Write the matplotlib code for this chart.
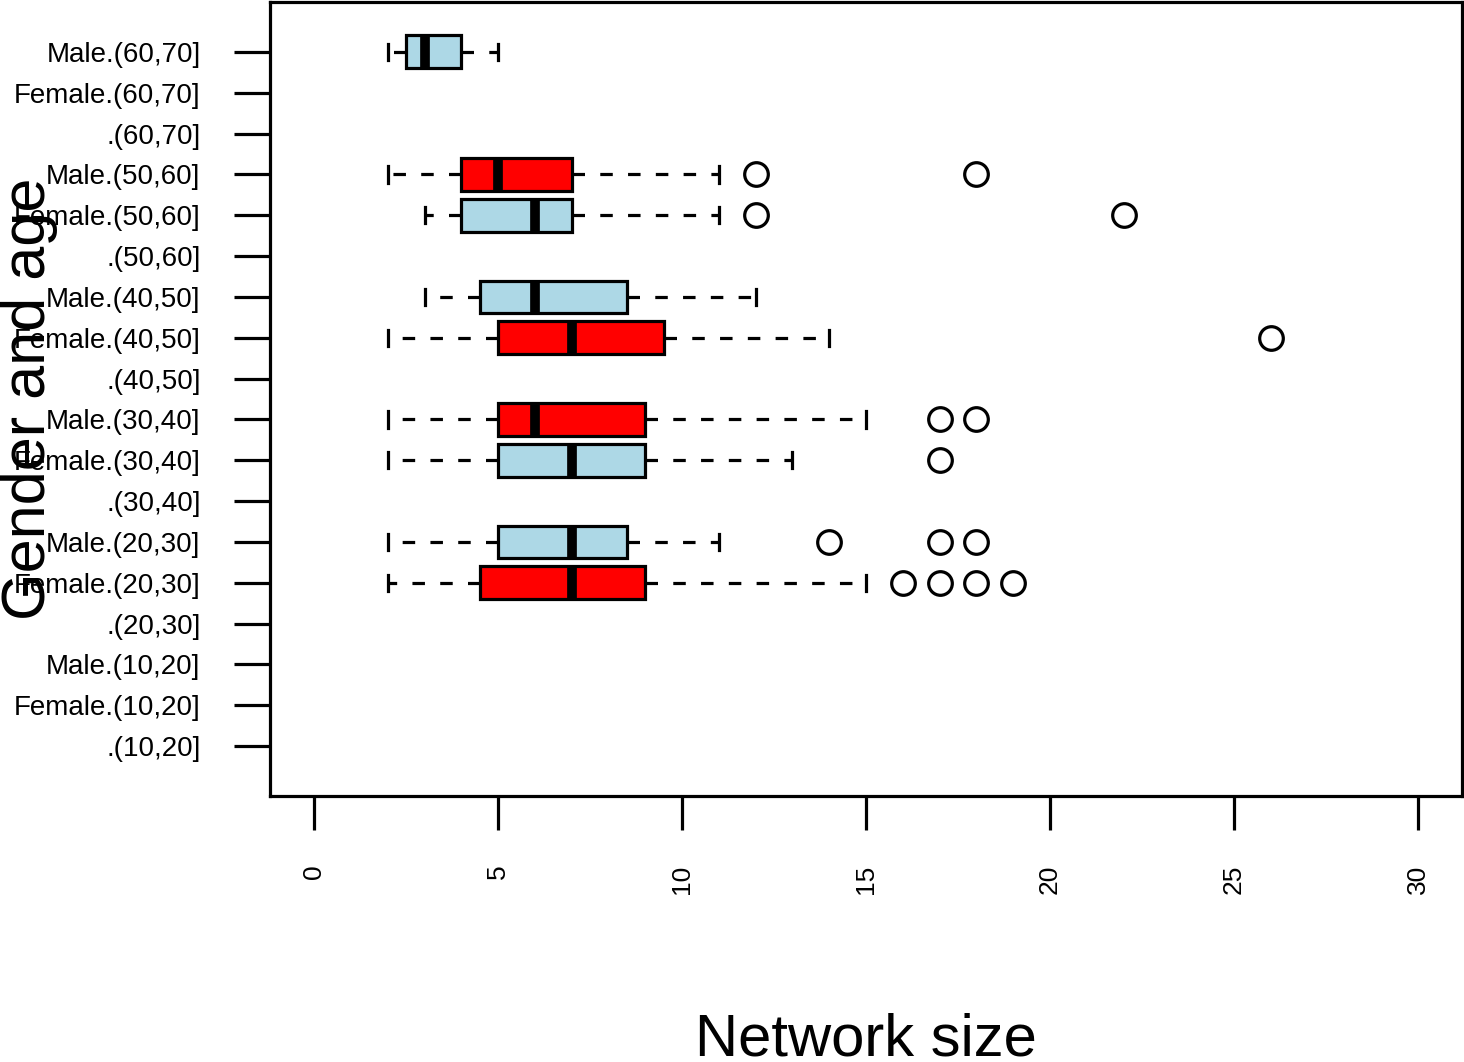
import matplotlib
matplotlib.use("Agg")
import matplotlib.pyplot as plt

plt.rcParams['font.family'] = ['Liberation Sans', 'DejaVu Sans']
plt.rcParams['lines.scale_dashes'] = False

# group labels, bottom to top (R boxplot order)
labels = ['.(10,20]', 'Female.(10,20]', 'Male.(10,20]',
          '.(20,30]', 'Female.(20,30]', 'Male.(20,30]',
          '.(30,40]', 'Female.(30,40]', 'Male.(30,40]',
          '.(40,50]', 'Female.(40,50]', 'Male.(40,50]',
          '.(50,60]', 'Female.(50,60]', 'Male.(50,60]',
          '.(60,70]', 'Female.(60,70]', 'Male.(60,70]']

# only the non-empty groups have boxes (position = index in labels + 1)
box_pos = [5, 6, 8, 9, 11, 12, 14, 15, 18]
whislo = [2, 2, 2, 2, 2, 3, 3, 2, 2]
q1 = [4.5, 5, 5, 5, 5, 4.5, 4, 4, 2.5]
med = [7, 7, 7, 6, 7, 6, 6, 5, 3]
q3 = [9, 8.5, 9, 9, 9.5, 8.5, 7, 7, 4]
whishi = [15, 11, 13, 15, 14, 12, 11, 11, 5]
fliers = [[16, 17, 18, 19], [14, 17, 18], [17], [17, 18], [26], [], [12, 22], [12, 18], []]
box_cols = ['red', 'lightblue', 'lightblue', 'red', 'red', 'lightblue', 'lightblue', 'red', 'lightblue']

xticks = [0, 5, 10, 15, 20, 25, 30]

stats = []
for i in range(len(box_pos)):
    stats.append(dict(whislo=whislo[i], q1=q1[i], med=med[i], q3=q3[i],
                      whishi=whishi[i], fliers=fliers[i]))

fig = plt.figure(figsize=(14.64, 10.62), dpi=100)
ax = fig.add_axes([270 / 1464, 1 - 796 / 1062, (1462 - 270) / 1464, (796 - 2) / 1062])

lw = 2.3
bp = ax.bxp(stats, positions=box_pos, vert=False, widths=0.8, patch_artist=True,
            capwidths=0.4,
            boxprops=dict(linewidth=lw, edgecolor='black'),
            medianprops=dict(color='black', linewidth=7, solid_capstyle='butt'),
            whiskerprops=dict(color='black', linewidth=lw, linestyle=(0, (9, 11))),
            capprops=dict(color='black', linewidth=lw),
            flierprops=dict(marker='o', markersize=17, markerfacecolor='none',
                            markeredgecolor='black', markeredgewidth=lw))
for patch, c in zip(bp['boxes'], box_cols):
    patch.set_facecolor(c)

ax.set_xlim(-1.2, 31.2)
ax.set_ylim(-0.22, 19.22)
ax.set_yticks(range(1, len(labels) + 1))
ax.set_yticklabels(labels, fontsize=20)
ax.set_xticks(xticks)
ax.set_xticklabels([str(t) for t in xticks], fontsize=19, rotation=90)
ax.tick_params(axis='y', length=26, width=lw, pad=24)
ax.tick_params(axis='x', length=24.5, width=lw, pad=25)
for s in ax.spines.values():
    s.set_linewidth(lw)

fig.text(866 / 1464, 1 - 1055 / 1062, 'Network size', fontsize=43,
         ha='center', va='baseline')
fig.text(30 / 1464, 1 - 399 / 1062, 'Gender and age', fontsize=44,
         ha='center', va='center', rotation=90)

fig.savefig('out.png', dpi=100)
